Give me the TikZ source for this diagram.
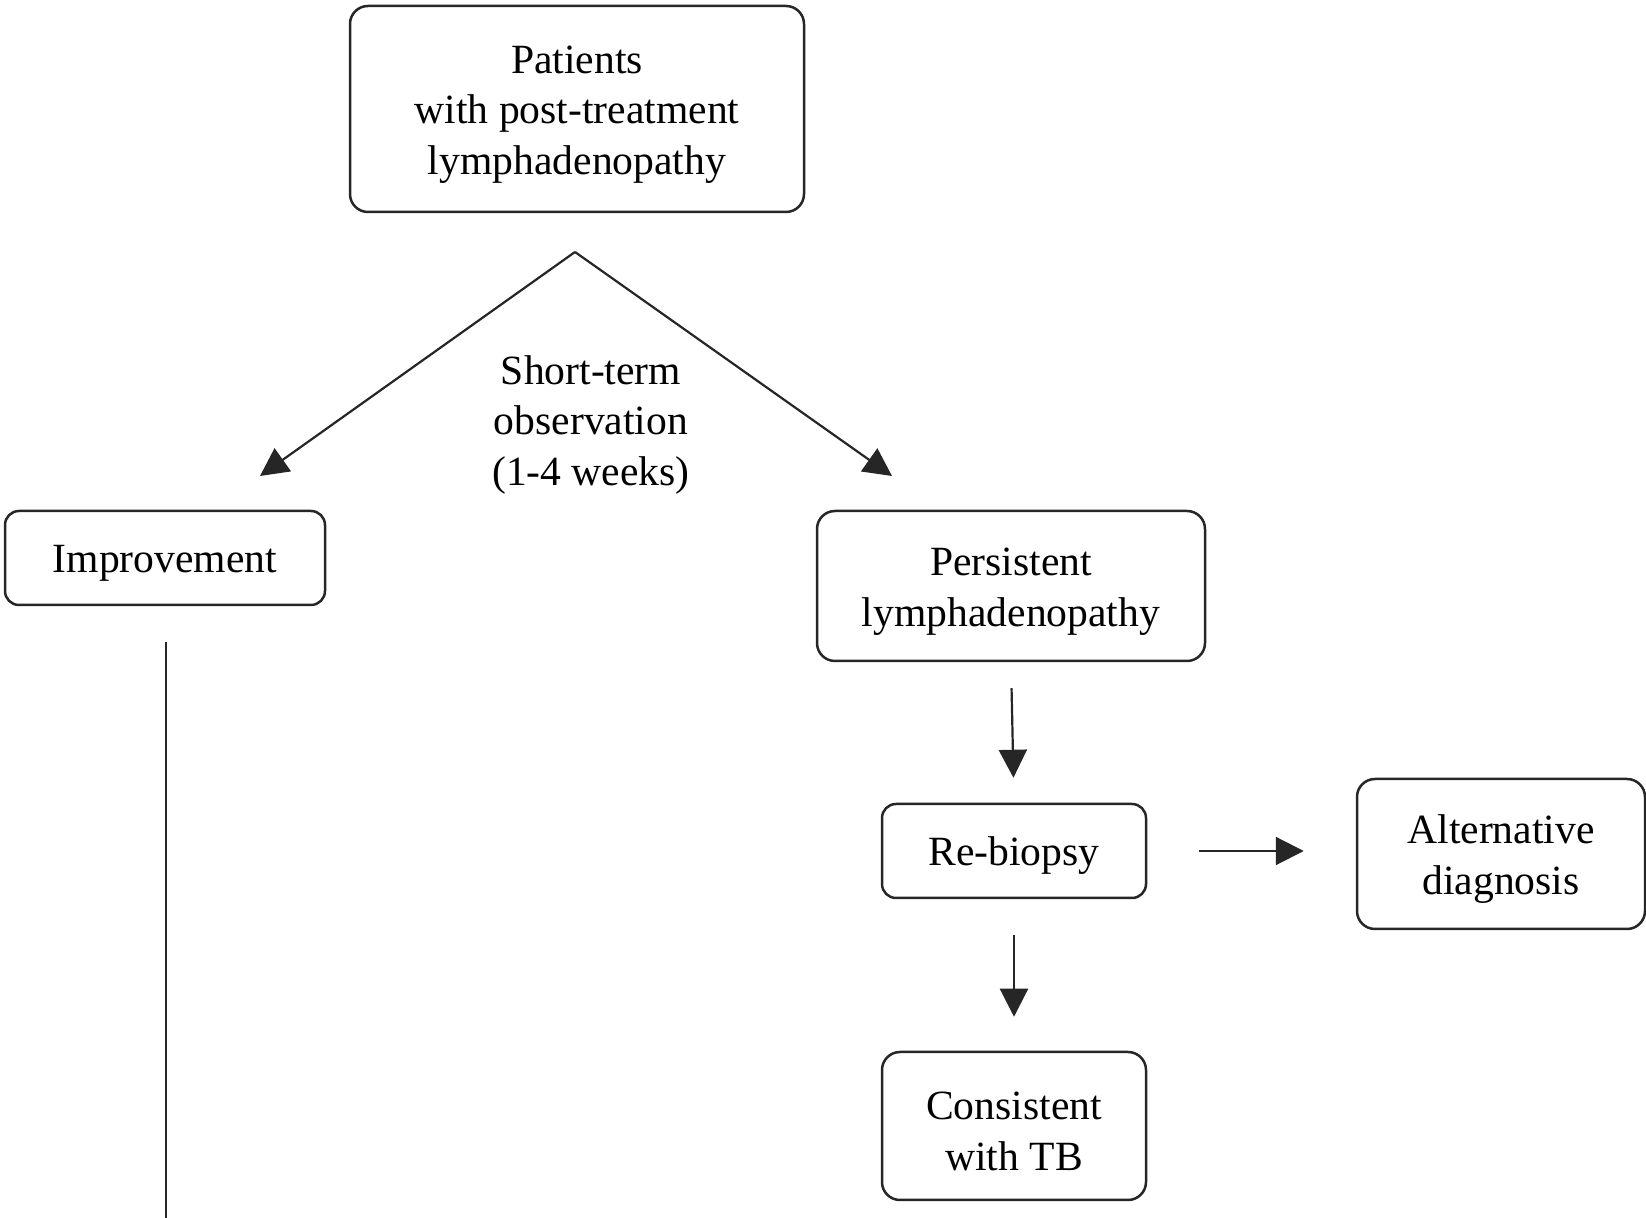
\documentclass[tikz,border=0pt]{standalone}
\usepackage{fontspec}
\setmainfont{Liberation Serif}
\usetikzlibrary{arrows.meta}
\newcommand\tstrut{\rule{0pt}{19.4pt}}
\begin{document}
\begin{tikzpicture}[x=0.5pt,y=-0.5pt,
  box/.style={draw=black!85, line width=1.25pt, rounded corners=9pt, align=center,
    inner sep=0pt, font=\fontsize{20.8}{25.2}\selectfont},
  lbl/.style={align=center, inner sep=0pt, font=\fontsize{20.8}{25.2}\selectfont},
  arr/.style={draw=black!85, line width=1.1pt, -{Triangle[length=14pt,width=14pt]}},
  plain/.style={draw=black!85, line width=1.1pt},
]
\useasboundingbox (0,0) rectangle (1646,1218);
\node[box, minimum width=227pt, minimum height=103pt] (pat) at (577,109)
  {\tstrut Patients\\with post-treatment\\lymphadenopathy};
\node[box, rounded corners=7pt, minimum width=160pt, minimum height=47pt] (imp) at (165,558)
  {\tstrut Improvement};
\node[box, minimum width=194pt, minimum height=75pt] (per) at (1011,586)
  {\tstrut Persistent\\lymphadenopathy};
\node[box, rounded corners=7pt, minimum width=132pt, minimum height=47pt] (reb) at (1014,851)
  {\tstrut Re-biopsy};
\node[box, minimum width=144pt, minimum height=75pt] (alt) at (1501,854)
  {\tstrut Alternative\\diagnosis};
\node[box, minimum width=132pt, minimum height=74pt] (con) at (1014,1126)
  {\tstrut Consistent\\with TB};
\node[lbl] (obs) at (591,425) {Short-term\\observation\\(1-4 weeks)};
\coordinate (apex) at (575,252);
\coordinate (tipL) at (260,476);
\coordinate (tipR) at (892,476);
\coordinate (bot) at (166,1218);
\draw[arr] (apex) -- (tipL);
\draw[arr] (apex) -- (tipR);
\draw[arr, shorten <=13pt, shorten >=12.5pt] (per.south) -- (reb.north);
\draw[arr, shorten <=18pt, shorten >=17pt] (reb.south) -- (con.north);
\draw[arr, shorten <=26pt, shorten >=26pt] (reb.east) -- (reb.east -| alt.west);
\draw[plain, shorten <=18pt] (imp.south -| bot) -- (bot);
\end{tikzpicture}
\end{document}
